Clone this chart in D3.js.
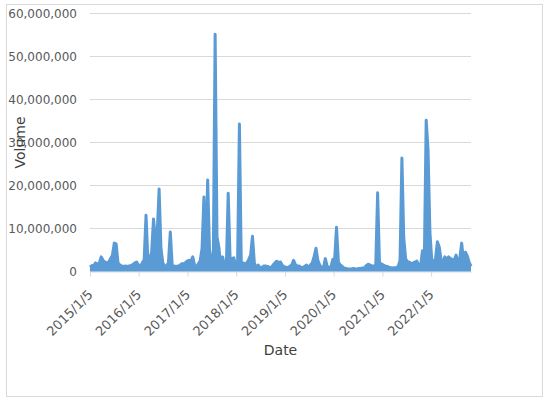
<!DOCTYPE html>
<html>
<head>
<meta charset="utf-8">
<script src="https://cdn.jsdelivr.net/npm/d3@7"></script>
<style>
  body { margin: 0; background: #fff; }
  svg { display: block; }
  .axis text { font-family: "DejaVu Sans", sans-serif; font-size: 12px; fill: #595959; }
  .axis--x text { font-size: 13px; }
  .axis path, .axis line { stroke: #d9d9d9; }
  .grid line { stroke: #d9d9d9; stroke-width: 1; }
  .title { font-family: "DejaVu Sans", sans-serif; font-size: 14px; fill: #404040; }
</style>
</head>
<body>
<svg width="550" height="403"></svg>
<script>
// trading volume, one reading every two weeks from the first date, in millions
var startDate = "2015-01-05",
    stepDays = 14;

var volumeM = [
  1.0, 1.4, 1.3, 2.0, 1.6, 2.0, 3.4, 2.6, 2.2, 2.0,
  2.2, 3.0, 3.8, 6.6, 6.4, 2.0, 1.5, 1.3, 1.2, 1.3,
  1.2, 1.3, 1.4, 1.6, 2.0, 2.2, 1.5, 1.2, 2.0, 2.7,
  13.1, 2.7, 3.0, 4.5, 12.2, 8.0, 9.0, 19.2, 5.4, 2.0,
  1.2, 1.3, 2.0, 9.2, 1.5, 1.2, 1.2, 1.2, 1.4, 1.8,
  1.8, 2.0, 2.4, 2.6, 2.4, 3.4, 1.5, 1.0, 1.8, 2.5,
  5.4, 17.3, 2.6, 21.3, 5.0, 2.6, 1.5, 55.2, 8.0, 5.7,
  1.2, 3.4, 1.5, 1.2, 18.2, 3.0, 3.0, 3.2, 1.3, 1.5,
  34.3, 2.0, 2.0, 1.8, 2.0, 2.8, 3.8, 8.2, 2.0, 0.7,
  1.5, 1.0, 0.8, 1.3, 1.3, 1.2, 1.0, 0.9, 1.5, 2.0,
  2.4, 2.1, 2.2, 1.4, 1.1, 1.0, 0.9, 1.2, 1.5, 2.6,
  1.6, 1.2, 1.3, 1.0, 0.9, 1.2, 1.5, 0.9, 1.5, 2.0,
  3.5, 5.4, 2.6, 1.5, 0.9, 1.0, 3.0, 1.2, 1.0, 1.0,
  2.8, 3.0, 10.3, 2.2, 1.5, 1.2, 0.8, 0.7, 0.6, 0.6,
  0.6, 0.7, 0.6, 0.6, 0.7, 0.7, 0.8, 0.9, 1.4, 1.7,
  1.5, 1.3, 1.2, 1.5, 18.3, 2.0, 1.8, 1.5, 1.3, 1.2,
  1.0, 0.9, 0.8, 0.9, 0.9, 1.2, 2.6, 26.4, 7.8, 3.0,
  2.2, 2.2, 1.8, 2.0, 2.2, 2.4, 1.5, 1.2, 4.8, 2.0,
  35.2, 28.3, 9.2, 2.6, 2.2, 3.0, 6.9, 5.7, 2.6, 2.2,
  3.4, 2.8, 3.4, 3.0, 2.8, 2.6, 3.8, 2.4, 3.0, 6.6,
  2.6, 4.5, 3.6, 2.2, 1.2
];

var yTicks = [0, 10000000, 20000000, 30000000, 40000000, 50000000, 60000000];

var xTickLabels = ["2015/1/5", "2016/1/5", "2017/1/5", "2018/1/5",
                   "2019/1/5", "2020/1/5", "2021/1/5", "2022/1/5"];

var svg = d3.select("svg"),
    plot = {left: 90, right: 471, top: 13.5, bottom: 271.5};

var parseDate = d3.timeParse("%Y-%m-%d"),
    parseTick = d3.timeParse("%Y/%m/%d"),
    start = parseDate(startDate);

var data = volumeM.map(function(v, i) {
  return {date: d3.timeDay.offset(start, i * stepDays), volume: v * 1e6};
});

var x = d3.scaleTime()
    .domain(d3.extent(data, function(d) { return d.date; }))
    .range([plot.left, plot.right]);

var y = d3.scaleLinear()
    .domain([0, 60000000])
    .range([plot.bottom, plot.top]);

// chart border
svg.append("rect")
    .attr("x", 6.5).attr("y", 4.5)
    .attr("width", 536).attr("height", 392)
    .attr("fill", "none")
    .attr("stroke", "#d9d9d9");

// horizontal gridlines
svg.append("g")
    .attr("class", "grid")
  .selectAll("line")
  .data(yTicks.slice(1))
  .enter().append("line")
    .attr("x1", plot.left)
    .attr("x2", plot.right)
    .attr("y1", function(d) { return y(d); })
    .attr("y2", function(d) { return y(d); });

// y axis labels only
svg.append("g")
    .attr("class", "axis axis--y")
    .attr("transform", "translate(" + plot.left + ",0)")
    .call(d3.axisLeft(y).tickValues(yTicks).tickSize(0).tickPadding(13).tickFormat(d3.format(",")))
  .select(".domain")
    .remove();

// x axis with rotated date labels
var tickDates = xTickLabels.map(function(s) { return parseTick(s); });

var xAxis = svg.append("g")
    .attr("class", "axis axis--x")
    .attr("transform", "translate(0," + plot.bottom + ")")
    .call(d3.axisBottom(x).tickValues(tickDates).tickSize(5).tickSizeOuter(0)
      .tickFormat(function(d, i) { return xTickLabels[i]; }));

xAxis.selectAll("text")
    .attr("text-anchor", "end")
    .attr("dy", null)
    .attr("y", null)
    .attr("transform", "translate(3,24) rotate(-45)");

// the series: filled under the envelope of the daily swings, plus the line
var area = d3.area()
    .x(function(d) { return x(d.date); })
    .y0(y(0))
    .y1(function(d) { return y(d.volume); });

var line = d3.line()
    .x(function(d) { return x(d.date); })
    .y(function(d) { return y(d.volume); });

svg.append("path")
    .datum(data)
    .attr("fill", "#5b9bd5")
    .attr("d", area);

svg.append("path")
    .datum(data)
    .attr("fill", "none")
    .attr("stroke", "#5b9bd5")
    .attr("stroke-width", 3)
    .attr("stroke-linejoin", "round")
    .attr("d", line);

// axis titles
svg.append("text")
    .attr("class", "title")
    .attr("transform", "translate(25," + ((plot.top + plot.bottom) / 2) + ") rotate(-90)")
    .attr("text-anchor", "middle")
    .text("Volume");

svg.append("text")
    .attr("class", "title")
    .attr("x", (plot.left + plot.right) / 2)
    .attr("y", 355)
    .attr("text-anchor", "middle")
    .text("Date");
</script>
</body>
</html>
